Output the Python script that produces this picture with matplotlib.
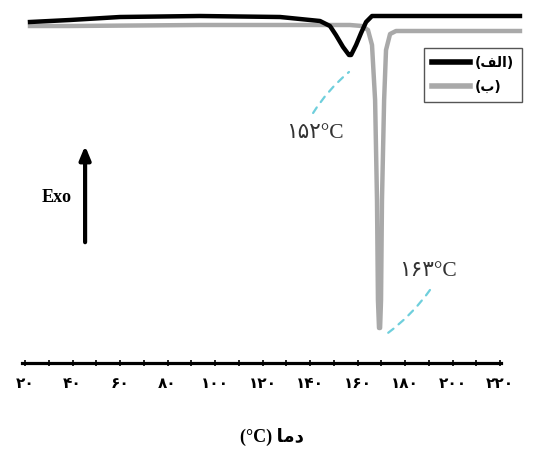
"""
DSC thermograms of samples (alef) and (be)
"""

import matplotlib.pyplot as plt

# temperature (°C) and heat flow (arbitrary units, exo up)
temp_a = [22.1, 38.9, 60.0, 93.7, 127.4, 144.2, 148.4, 150.9, 153.9, 156.4,
          157.3, 159.4, 161.5, 163.6, 166.1, 199.0, 228.4]
flow_a = [341, 343, 346, 347, 346, 342, 337, 328, 316, 308,
          308, 318, 330, 341, 347, 347, 347]

temp_b = [22.1, 38.9, 93.7, 135.8, 156.8, 161.9, 164.4, 166.1, 167.4, 168.2,
          168.6, 169.05, 169.5, 169.9, 170.3, 171.2, 172.0, 173.7, 176.2, 199.0, 228.4]
flow_b = [337, 337, 338, 338, 338, 337, 333, 318, 263, 163,
          63, 35, 35, 63, 163, 263, 313, 329, 332, 332, 332]

ticks_major = [20, 40, 60, 80, 100, 120, 140, 160, 180, 200, 220]
ticks_minor = [30, 50, 70, 90, 110, 130, 150, 170, 190, 210]
tick_labels = ["۲۰", "۴۰", "۶۰", "۸۰", "۱۰۰", "۱۲۰", "۱۴۰", "۱۶۰", "۱۸۰", "۲۰۰", "۲۲۰"]

# peak labels: (peak temp, peak flow, connector end temp, flow, label temp, flow, text)
peak_a = (156.4, 291, 141.3, 250, 142.0, 230, "۱۵۲°C")
peak_b = (172.8, 30, 190.5, 73, 189.7, 91, "۱۶۳°C")

# Arabic text given in presentation forms, visual order (matplotlib has no shaping)
label_a = "(\uFED2\uFEDF\uFE8D)"
label_b = "(\uFE8F)"
xlabel = "(°C) \uFE8E\uFEE3\uFEA9"

FONTS = ["Liberation Serif", "DejaVu Sans"]
GRAY = "#a9a9a9"
CYAN = "#6fcfdc"

fig = plt.figure(figsize=(5.48, 4.55), dpi=100)
ax = fig.add_axes([0, 0, 1, 1])

line_b, = ax.plot(temp_b, flow_b, color=GRAY, lw=3.2, solid_joinstyle="round", label=label_b, zorder=3)
line_a, = ax.plot(temp_a, flow_a, color="black", lw=3.2, solid_joinstyle="round", label=label_a, zorder=4)

ax.set_xlim(9.47, 240.2)
ax.set_ylim(-92, 363)

for side in ["top", "right", "left"]:
    ax.spines[side].set_visible(False)
ax.spines["bottom"].set_position(("data", 0))
ax.spines["bottom"].set_bounds(18.7, 220.4)
ax.spines["bottom"].set_linewidth(2.3)
ax.set_yticks([])
ax.set_xticks(ticks_major)
ax.set_xticks(ticks_minor, minor=True)
ax.set_xticklabels(tick_labels, family=["DejaVu Sans"], fontweight="bold", fontsize=11)
ax.tick_params(axis="x", which="both", direction="inout", length=5, width=1.2, pad=7)

# peak annotations with dashed connectors
for px, py, cx, cy, tx, ty, txt in [peak_a, peak_b]:
    ax.annotate("", xy=(px, py), xytext=(cx, cy),
                arrowprops=dict(arrowstyle="-", color=CYAN, lw=1.6, linestyle=(0, (3, 3)),
                                connectionstyle="arc3,rad=-0.08", shrinkA=0, shrinkB=0))
    ax.text(tx, ty, txt, ha="center", va="center", fontsize=15.5, family=FONTS, color="#333333")

# Exo arrow
ax.annotate("", xy=(45.3, 220), xytext=(45.3, 118),
            arrowprops=dict(arrowstyle="-|>,head_length=0.8,head_width=0.33", color="black", lw=3))
ax.text(33.5, 165, "Exo", ha="center", va="center", fontsize=13, fontweight="bold",
        family=FONTS)

ax.text(124.0, -74, xlabel, ha="center", va="center", fontsize=13, fontweight="bold",
        family=["Liberation Serif", "DejaVu Sans"])

leg = ax.legend(handles=[line_a, line_b], loc="upper right", bbox_to_anchor=(522 / 548, 1 - 48 / 455),
                borderaxespad=0, fancybox=False, framealpha=1, edgecolor="#555555",
                handlelength=2.7, handletextpad=0.4, borderpad=0.55, labelspacing=0.75,
                prop={"family": "DejaVu Sans", "size": 10, "weight": "bold"})
leg.get_frame().set_linewidth(1.0)
for line in leg.get_lines():
    line.set_linewidth(4)

plt.savefig("out.png", dpi=100, facecolor="white")
plt.close()
